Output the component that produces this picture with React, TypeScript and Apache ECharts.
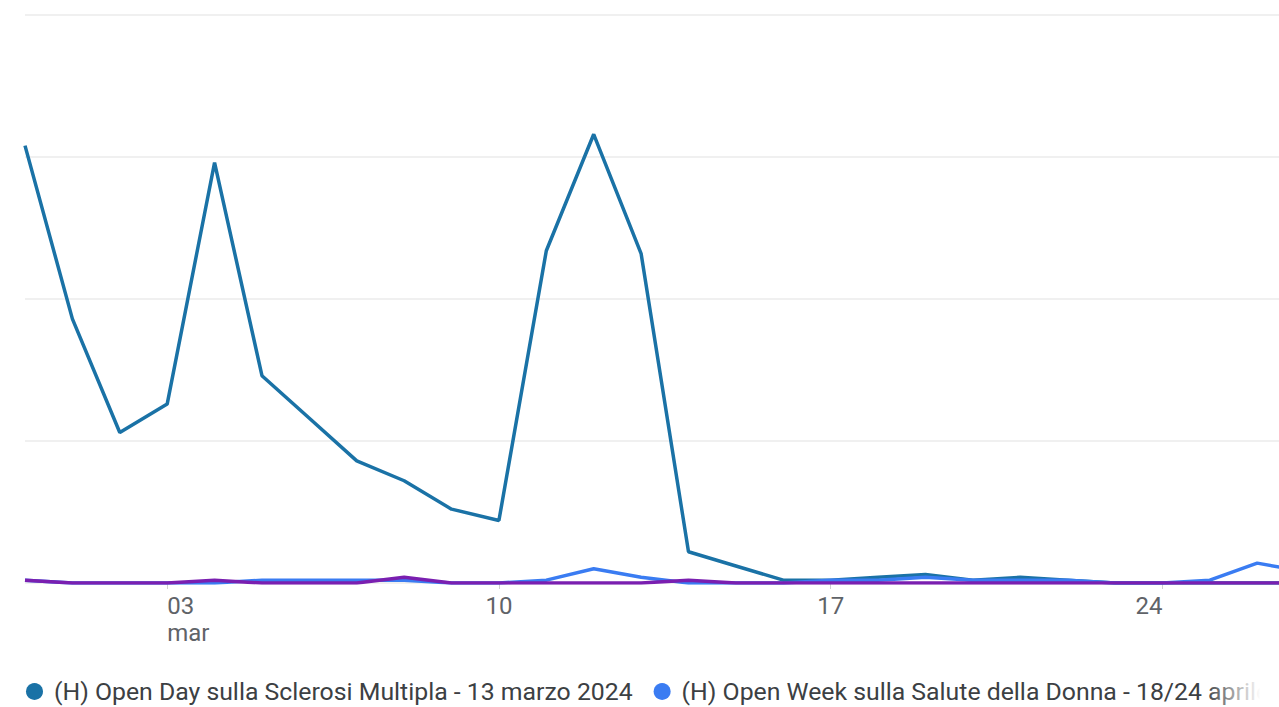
import React, { useEffect, useRef } from "react";
import * as echarts from "echarts";

const dates = [
  "29 feb", "01 mar", "02 mar", "03 mar", "04 mar", "05 mar", "06 mar", "07 mar",
  "08 mar", "09 mar", "10 mar", "11 mar", "12 mar", "13 mar", "14 mar", "15 mar",
  "16 mar", "17 mar", "18 mar", "19 mar", "20 mar", "21 mar", "22 mar", "23 mar",
  "24 mar", "25 mar", "26 mar", "27 mar",
];
const visibleDays = 26.46;
const tickIndexes = [3, 10, 17, 24];
const tickLabels: Record<number, string> = { 3: "03\nmar", 10: "10", 17: "17", 24: "24" };

const seriesNames = [
  "(H) Open Day sulla Sclerosi Multipla - 13 marzo 2024",
  "(H) Open Week sulla Salute della Donna - 18/24 aprile 2024",
];
const openDay = [154, 93, 53, 63, 148, 73, 58, 43, 36, 26, 22, 117, 158, 116, 11, 6, 1, 1, 2, 3, 1, 2, 1, 0, 0, 0, 0, 0];
const openWeek = [1, 0, 0, 0, 0, 1, 1, 1, 1, 0, 0, 1, 5, 2, 0, 0, 0, 1, 1, 2, 1, 1, 1, 0, 0, 1, 7, 4];
const other = [1, 0, 0, 0, 1, 0, 0, 0, 2, 0, 0, 0, 0, 0, 1, 0, 0, 0, 0, 0, 0, 0, 0, 0, 0, 0, 0, 0];

const colors = ["#1a72a6", "#3a7cf2", "#7a1fb0"];
const FONT = "Roboto";

export default function App() {
  const ref = useRef<HTMLDivElement>(null);
  useEffect(() => {
    if (!ref.current) return;
    const chart = echarts.init(ref.current, undefined, { renderer: "svg" });
    const toPairs = (vals: number[]) => vals.map((v, i) => [i, v]);
    const baseX = {
      type: "value" as const,
      min: 0,
      max: visibleDays,
      gridIndex: 0,
      position: "bottom" as const,
      axisLine: { show: false },
      splitLine: { show: false },
    };
    const labelStyle = { color: "#5f6368", fontFamily: FONT, fontSize: 24, lineHeight: 27, margin: 9 };
    const fmt = (v: number) => tickLabels[Math.round(v)] ?? "";
    chart.setOption({
      animation: false,
      backgroundColor: "#ffffff",
      color: colors,
      grid: { left: 25, right: 0, top: 15, bottom: 124, containLabel: false },
      xAxis: [
        {
          ...baseX,
          axisTick: { show: true, customValues: tickIndexes, length: 6, lineStyle: { color: "#d0d0d0" } },
          axisLabel: { ...labelStyle, align: "left", customValues: [3], formatter: fmt },
        },
        {
          ...baseX,
          axisTick: { show: false },
          axisLabel: { ...labelStyle, align: "center", customValues: [10, 17], formatter: fmt },
        },
        {
          ...baseX,
          axisTick: { show: false },
          axisLabel: { ...labelStyle, align: "right", customValues: [24], formatter: fmt },
        },
      ],
      yAxis: {
        type: "value",
        min: 0,
        max: 200,
        interval: 50,
        axisLabel: { show: false },
        axisLine: { show: false },
        axisTick: { show: false },
        splitLine: { lineStyle: { color: "#ebebeb", width: 1.5 } },
      },
      legend: {
        data: seriesNames,
        left: 21,
        top: 674,
        width: 3000,
        icon: "circle",
        itemWidth: 17,
        itemHeight: 17,
        itemGap: 21,
        textStyle: { color: "#3c4043", fontFamily: FONT, fontSize: 24.8, padding: [0, 0, 0, 6] },
      },
      series: [
        {
          name: seriesNames[0],
          type: "line",
          data: toPairs(openDay),
          symbol: "none",
          lineStyle: { width: 3.5, color: colors[0] },
          itemStyle: { color: colors[0] },
          z: 3,
        },
        {
          name: seriesNames[1],
          type: "line",
          data: toPairs(openWeek),
          symbol: "none",
          lineStyle: { width: 3.5, color: colors[1] },
          itemStyle: { color: colors[1] },
          z: 4,
        },
        {
          type: "line",
          data: toPairs(other),
          symbol: "none",
          lineStyle: { width: 3.5, color: colors[2] },
          itemStyle: { color: colors[2] },
          z: 5,
        },
      ],
      graphic: [
        {
          type: "rect",
          z: 100,
          shape: { x: 1205, y: 665, width: 74, height: 42 },
          style: {
            fill: new echarts.graphic.LinearGradient(0, 0, 1, 0, [
              { offset: 0, color: "rgba(255,255,255,0)" },
              { offset: 0.75, color: "rgba(255,255,255,1)" },
              { offset: 1, color: "rgba(255,255,255,1)" },
            ]),
          },
        },
      ],
    });
    return () => chart.dispose();
  }, []);
  return (
    <div
      ref={ref}
      style={{ position: "fixed", left: 0, top: 0, width: 1279, height: 707, background: "#fff" }}
    />
  );
}
